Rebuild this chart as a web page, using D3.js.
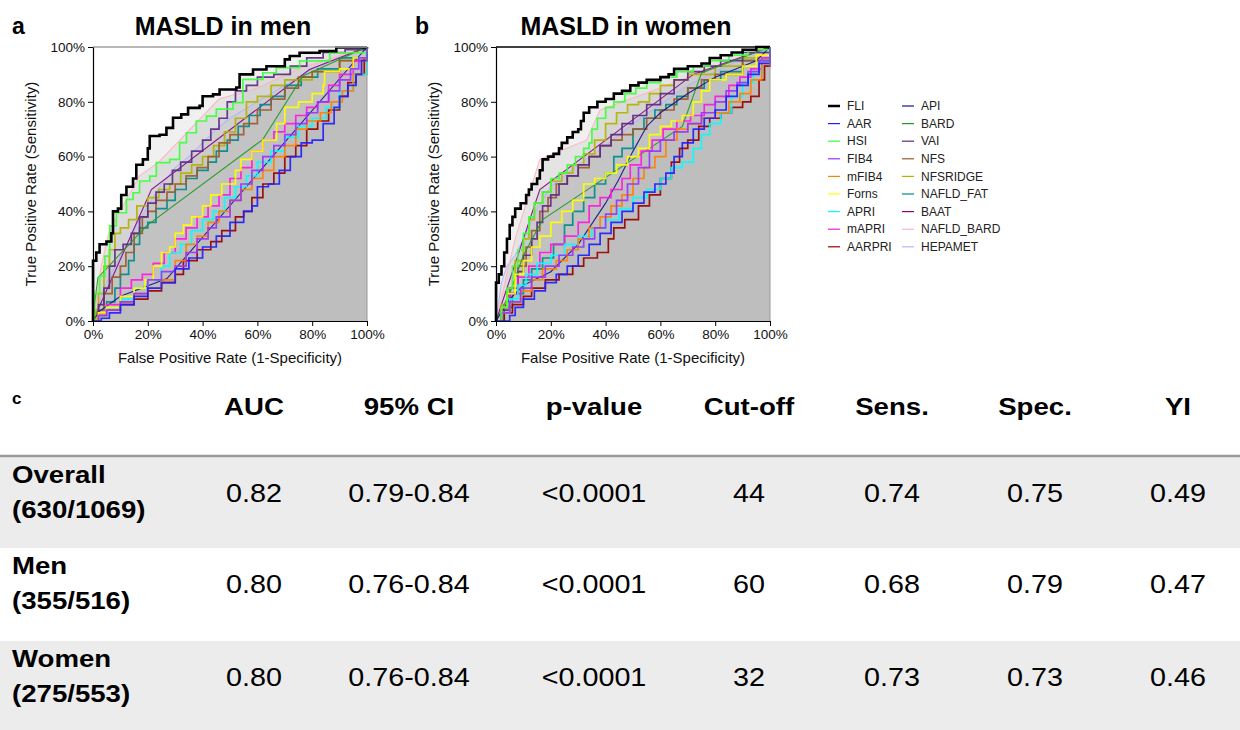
<!DOCTYPE html>
<html>
<head>
<meta charset="utf-8">
<script src="https://cdn.jsdelivr.net/npm/d3@7"></script>
<style>
  body { margin: 0; background: #fff; }
  svg { font-family: "Liberation Sans", Arial, sans-serif; }
</style>
</head>
<body>
<svg id="fig" width="1240" height="730"></svg>
<script>
// markers shown in both panels, legend order
var markers = ["FLI", "AAR", "HSI", "FIB4", "mFIB4", "Forns", "APRI", "mAPRI", "AARPRI",
               "API", "BARD", "VAI", "NFS", "NFSRIDGE", "NAFLD_FAT", "BAAT", "NAFLD_BARD", "HEPAMET"];
var markerColors = ["#000000", "#1f1fff", "#3cff3c", "#9933ff", "#ff8000", "#ffff00", "#00ffff", "#ff19e0", "#990000",
                    "#14148c", "#229922", "#5b2a86", "#9c5a2e", "#b3b300", "#008b8b", "#8b008b", "#ffb3bb", "#b3b3ff"];
// these come out as straight segments, the others as staircases
var straightMarkers = ["API", "BARD", "BAAT", "NAFLD_BARD", "HEPAMET"];
var ticks = [0, 0.2, 0.4, 0.6, 0.8, 1];

// ROC points [1-specificity, sensitivity], men
var menFLI = [[0,0],[0,0.22],[0.012,0.25],[0.024,0.28],[0.049,0.29],[0.067,0.32],[0.073,0.40],[0.091,0.41],[0.103,0.46],[0.122,0.49],[0.146,0.52],[0.158,0.57],[0.182,0.59],[0.20,0.63],[0.207,0.675],[0.243,0.68],[0.268,0.705],[0.292,0.742],[0.322,0.754],[0.347,0.778],[0.389,0.785],[0.40,0.82],[0.438,0.827],[0.462,0.845],[0.523,0.852],[0.535,0.90],[0.584,0.918],[0.633,0.93],[0.70,0.955],[0.718,0.967],[0.754,0.979],[0.827,0.985],[0.888,0.998],[1,1]];
var menAAR = [[0,0],[0.03,0.01],[0.06,0.03],[0.1,0.06],[0.15,0.09],[0.2,0.12],[0.25,0.14],[0.3,0.19],[0.35,0.23],[0.4,0.27],[0.45,0.31],[0.5,0.36],[0.55,0.4],[0.58,0.42],[0.6,0.49],[0.64,0.5],[0.68,0.55],[0.72,0.6],[0.76,0.65],[0.8,0.66],[0.84,0.72],[0.88,0.78],[0.9,0.82],[0.93,0.86],[0.96,0.9],[0.98,0.95],[1,1]];
var menHSI = [[0,0],[0.005,0.1],[0.024,0.164],[0.043,0.237],[0.061,0.347],[0.085,0.395],[0.122,0.444],[0.146,0.468],[0.17,0.511],[0.207,0.529],[0.231,0.578],[0.28,0.59],[0.316,0.651],[0.341,0.687],[0.377,0.73],[0.414,0.748],[0.45,0.773],[0.511,0.797],[0.547,0.882],[0.62,0.906],[0.669,0.925],[0.754,0.949],[0.864,0.979],[1,1]];
var menFIB4 = [[0,0],[0.02,0.02],[0.05,0.04],[0.1,0.07],[0.15,0.1],[0.2,0.15],[0.25,0.18],[0.3,0.2],[0.34,0.25],[0.38,0.3],[0.42,0.34],[0.45,0.38],[0.5,0.44],[0.54,0.5],[0.58,0.55],[0.62,0.6],[0.66,0.64],[0.7,0.68],[0.74,0.72],[0.78,0.76],[0.82,0.8],[0.86,0.84],[0.9,0.88],[0.94,0.92],[0.97,0.96],[1,1]];
var menMFIB4 = [[0,0],[0.02,0.02],[0.05,0.04],[0.1,0.07],[0.15,0.1],[0.2,0.12],[0.25,0.15],[0.3,0.22],[0.34,0.28],[0.38,0.31],[0.42,0.36],[0.46,0.4],[0.5,0.44],[0.54,0.48],[0.58,0.52],[0.62,0.55],[0.66,0.6],[0.7,0.64],[0.74,0.7],[0.78,0.73],[0.83,0.76],[0.87,0.8],[0.91,0.84],[0.95,0.9],[0.98,0.95],[1,1]];
var menForns = [[0,0],[0.02,0.03],[0.05,0.05],[0.1,0.09],[0.15,0.12],[0.19,0.15],[0.22,0.2],[0.25,0.25],[0.28,0.27],[0.3,0.32],[0.33,0.35],[0.36,0.38],[0.4,0.42],[0.43,0.46],[0.47,0.5],[0.52,0.55],[0.54,0.59],[0.58,0.62],[0.62,0.66],[0.67,0.72],[0.7,0.78],[0.75,0.8],[0.8,0.83],[0.84,0.86],[0.845,0.91],[0.9,0.92],[0.95,0.96],[1,1]];
var menAPRI = [[0,0],[0.02,0.02],[0.05,0.05],[0.1,0.08],[0.15,0.12],[0.2,0.15],[0.25,0.2],[0.28,0.25],[0.32,0.28],[0.36,0.33],[0.4,0.37],[0.44,0.4],[0.48,0.45],[0.52,0.49],[0.56,0.53],[0.6,0.58],[0.65,0.62],[0.7,0.67],[0.75,0.71],[0.8,0.74],[0.85,0.78],[0.9,0.84],[0.95,0.9],[1,1]];
var menMAPRI = [[0,0],[0.02,0.03],[0.05,0.06],[0.1,0.12],[0.14,0.15],[0.18,0.17],[0.22,0.21],[0.26,0.25],[0.3,0.3],[0.34,0.34],[0.38,0.38],[0.42,0.42],[0.46,0.46],[0.5,0.52],[0.54,0.56],[0.58,0.62],[0.62,0.66],[0.66,0.69],[0.7,0.72],[0.74,0.75],[0.78,0.78],[0.82,0.8],[0.86,0.86],[0.9,0.9],[0.95,0.95],[1,1]];
var menAARPRI = [[0,0],[0.02,0.02],[0.05,0.04],[0.1,0.06],[0.15,0.08],[0.2,0.11],[0.25,0.14],[0.3,0.17],[0.33,0.22],[0.38,0.26],[0.43,0.29],[0.47,0.33],[0.52,0.38],[0.55,0.4],[0.58,0.45],[0.62,0.5],[0.66,0.54],[0.7,0.6],[0.74,0.64],[0.78,0.7],[0.82,0.73],[0.86,0.77],[0.9,0.82],[0.93,0.87],[0.96,0.9],[0.99,0.96],[1,1]];
var menAPI = [[0,0],[0.024,0.036],[0.1,0.09],[0.27,0.155],[1,1]];
var menBARD = [[0,0],[0.005,0.06],[0.018,0.158],[0.195,0.347],[0.62,0.663],[0.766,0.894],[1,1]];
var menVAI = [[0,0],[0.02,0.06],[0.04,0.12],[0.06,0.2],[0.08,0.26],[0.11,0.28],[0.14,0.32],[0.17,0.38],[0.2,0.43],[0.23,0.47],[0.26,0.5],[0.29,0.55],[0.32,0.58],[0.36,0.62],[0.4,0.66],[0.43,0.7],[0.46,0.74],[0.49,0.8],[0.52,0.84],[0.56,0.86],[0.6,0.89],[0.66,0.9],[0.72,0.93],[0.78,0.96],[0.84,0.98],[0.92,0.99],[1,1]];
var menNFS = [[0,0],[0.02,0.04],[0.04,0.1],[0.07,0.16],[0.1,0.2],[0.12,0.25],[0.15,0.32],[0.18,0.38],[0.2,0.4],[0.23,0.44],[0.27,0.47],[0.3,0.5],[0.34,0.53],[0.38,0.56],[0.42,0.6],[0.46,0.65],[0.5,0.68],[0.55,0.72],[0.6,0.77],[0.65,0.81],[0.7,0.85],[0.75,0.89],[0.8,0.91],[0.9,0.95],[1,1]];
var menNFSRIDGE = [[0,0],[0.01,0.04],[0.02,0.1],[0.04,0.2],[0.06,0.26],[0.08,0.32],[0.1,0.34],[0.13,0.37],[0.16,0.42],[0.2,0.45],[0.24,0.48],[0.28,0.5],[0.32,0.54],[0.36,0.57],[0.4,0.6],[0.44,0.64],[0.48,0.69],[0.52,0.74],[0.56,0.8],[0.6,0.82],[0.65,0.86],[0.7,0.88],[0.8,0.91],[0.9,0.95],[1,1]];
var menNAFLD_FAT = [[0,0],[0.02,0.03],[0.05,0.07],[0.08,0.12],[0.1,0.17],[0.13,0.22],[0.15,0.28],[0.17,0.34],[0.2,0.36],[0.23,0.41],[0.27,0.44],[0.3,0.48],[0.34,0.52],[0.38,0.55],[0.42,0.58],[0.45,0.62],[0.49,0.66],[0.53,0.71],[0.57,0.75],[0.61,0.79],[0.65,0.82],[0.7,0.86],[0.76,0.89],[0.82,0.92],[0.9,0.96],[1,1]];
var menBAAT = [[0,0],[0.213,0.48],[0.79,0.918],[1,1]];
var menNAFLD_BARD = [[0,0],[0.03,0.2],[0.06,0.33],[0.17,0.53],[0.24,0.58],[0.46,0.81],[0.6,0.85],[0.75,0.92],[1,1]];
var menHEPAMET = [[0,0],[0.04,0.12],[0.08,0.2],[0.12,0.27],[0.16,0.35],[0.2,0.42],[0.25,0.5],[0.3,0.56],[0.35,0.6],[0.4,0.65],[0.45,0.7],[0.5,0.74],[0.6,0.8],[0.7,0.86],[0.8,0.92],[0.9,0.96],[1,1]];

// ROC points, women
var womenFLI = [[0,0],[0,0.14],[0.01,0.17],[0.02,0.2],[0.03,0.25],[0.04,0.3],[0.05,0.35],[0.06,0.38],[0.07,0.41],[0.09,0.43],[0.11,0.46],[0.12,0.48],[0.13,0.5],[0.15,0.52],[0.16,0.55],[0.17,0.59],[0.19,0.6],[0.21,0.61],[0.23,0.63],[0.24,0.65],[0.26,0.67],[0.28,0.69],[0.3,0.7],[0.31,0.73],[0.32,0.76],[0.34,0.78],[0.37,0.8],[0.4,0.81],[0.43,0.83],[0.46,0.84],[0.49,0.86],[0.52,0.87],[0.55,0.88],[0.6,0.89],[0.63,0.9],[0.65,0.92],[0.7,0.93],[0.75,0.94],[0.78,0.96],[0.82,0.97],[0.86,0.98],[0.9,0.99],[0.95,1],[1,1]];
var womenAAR = [[0,0],[0.03,0],[0.05,0.02],[0.07,0.05],[0.1,0.08],[0.14,0.11],[0.18,0.14],[0.22,0.17],[0.26,0.2],[0.3,0.24],[0.34,0.28],[0.38,0.32],[0.42,0.36],[0.46,0.4],[0.5,0.43],[0.54,0.47],[0.58,0.5],[0.62,0.54],[0.65,0.6],[0.68,0.65],[0.72,0.7],[0.76,0.74],[0.8,0.77],[0.84,0.82],[0.88,0.86],[0.92,0.9],[0.96,0.94],[1,1]];
var womenHSI = [[0,0],[0.02,0.05],[0.04,0.12],[0.06,0.2],[0.08,0.26],[0.1,0.32],[0.12,0.38],[0.14,0.43],[0.17,0.47],[0.2,0.52],[0.23,0.54],[0.26,0.57],[0.29,0.6],[0.32,0.63],[0.34,0.65],[0.35,0.7],[0.37,0.74],[0.4,0.78],[0.43,0.8],[0.47,0.83],[0.51,0.85],[0.55,0.87],[0.6,0.89],[0.66,0.91],[0.72,0.93],[0.78,0.95],[0.85,0.97],[0.92,0.99],[1,1]];
var womenFIB4 = [[0,0],[0.02,0.03],[0.05,0.07],[0.09,0.12],[0.13,0.16],[0.18,0.2],[0.23,0.24],[0.28,0.27],[0.32,0.3],[0.36,0.34],[0.4,0.39],[0.44,0.44],[0.48,0.5],[0.52,0.56],[0.56,0.62],[0.6,0.66],[0.65,0.69],[0.7,0.72],[0.75,0.76],[0.8,0.8],[0.84,0.84],[0.88,0.87],[0.92,0.91],[0.96,0.95],[1,1]];
var womenMFIB4 = [[0,0],[0.02,0.03],[0.05,0.07],[0.09,0.11],[0.13,0.15],[0.17,0.19],[0.22,0.22],[0.26,0.26],[0.3,0.3],[0.34,0.34],[0.38,0.38],[0.42,0.42],[0.46,0.46],[0.5,0.52],[0.54,0.56],[0.58,0.6],[0.62,0.66],[0.66,0.7],[0.7,0.72],[0.75,0.74],[0.8,0.76],[0.85,0.8],[0.89,0.83],[0.93,0.88],[0.97,0.94],[1,1]];
var womenForns = [[0,0],[0.02,0.05],[0.04,0.1],[0.07,0.17],[0.1,0.22],[0.13,0.27],[0.16,0.31],[0.2,0.36],[0.24,0.4],[0.28,0.44],[0.32,0.5],[0.36,0.52],[0.4,0.54],[0.44,0.57],[0.48,0.6],[0.52,0.63],[0.56,0.68],[0.6,0.71],[0.64,0.73],[0.68,0.75],[0.72,0.8],[0.75,0.84],[0.78,0.88],[0.84,0.9],[0.9,0.93],[0.95,0.97],[1,1]];
var womenAPRI = [[0,0],[0.02,0.03],[0.05,0.08],[0.08,0.13],[0.11,0.17],[0.15,0.21],[0.2,0.24],[0.25,0.28],[0.3,0.31],[0.35,0.34],[0.4,0.37],[0.45,0.41],[0.5,0.45],[0.55,0.48],[0.6,0.52],[0.64,0.56],[0.68,0.58],[0.72,0.63],[0.75,0.68],[0.78,0.72],[0.82,0.76],[0.86,0.82],[0.9,0.87],[0.94,0.91],[0.97,0.95],[1,1]];
var womenMAPRI = [[0,0],[0.02,0.05],[0.05,0.1],[0.08,0.16],[0.12,0.2],[0.16,0.25],[0.2,0.28],[0.25,0.31],[0.3,0.36],[0.34,0.42],[0.38,0.45],[0.42,0.48],[0.46,0.52],[0.49,0.57],[0.53,0.62],[0.57,0.66],[0.61,0.7],[0.66,0.73],[0.71,0.75],[0.76,0.79],[0.8,0.82],[0.85,0.86],[0.89,0.89],[0.93,0.92],[0.97,0.96],[1,1]];
var womenAARPRI = [[0,0],[0.03,0.03],[0.06,0.06],[0.1,0.09],[0.13,0.12],[0.18,0.15],[0.23,0.17],[0.28,0.2],[0.32,0.23],[0.37,0.25],[0.41,0.3],[0.43,0.34],[0.47,0.37],[0.52,0.42],[0.56,0.46],[0.6,0.52],[0.64,0.58],[0.67,0.63],[0.7,0.66],[0.74,0.71],[0.78,0.74],[0.82,0.76],[0.86,0.78],[0.9,0.8],[0.93,0.82],[0.96,0.88],[0.98,0.93],[1,1]];
var womenAPI = [[0,0],[0.05,0.08],[0.1,0.13],[0.2,0.18],[0.3,0.28],[0.4,0.43],[0.45,0.52],[0.5,0.62],[0.55,0.71],[0.6,0.76],[0.7,0.83],[0.8,0.89],[0.9,0.93],[0.95,0.95],[1,1]];
var womenBARD = [[0,0],[0.05,0.1],[0.1,0.24],[0.17,0.37],[0.68,0.71],[0.75,0.905],[1,1]];
var womenVAI = [[0,0],[0.02,0.04],[0.05,0.1],[0.08,0.18],[0.1,0.24],[0.13,0.3],[0.15,0.36],[0.17,0.42],[0.2,0.46],[0.23,0.5],[0.26,0.53],[0.3,0.57],[0.34,0.6],[0.38,0.64],[0.42,0.68],[0.46,0.72],[0.5,0.75],[0.55,0.79],[0.6,0.83],[0.65,0.88],[0.7,0.91],[0.76,0.93],[0.82,0.95],[0.9,0.98],[1,1]];
var womenNFS = [[0,0],[0.02,0.05],[0.05,0.12],[0.08,0.2],[0.11,0.27],[0.13,0.33],[0.16,0.4],[0.19,0.45],[0.22,0.5],[0.26,0.53],[0.3,0.56],[0.34,0.6],[0.38,0.64],[0.42,0.66],[0.46,0.68],[0.5,0.7],[0.55,0.74],[0.6,0.77],[0.65,0.81],[0.7,0.85],[0.75,0.88],[0.8,0.9],[0.9,0.95],[1,1]];
var womenNFSRIDGE = [[0,0],[0.02,0.06],[0.04,0.12],[0.07,0.22],[0.1,0.3],[0.12,0.37],[0.14,0.43],[0.17,0.47],[0.2,0.51],[0.24,0.54],[0.28,0.57],[0.32,0.61],[0.36,0.66],[0.4,0.72],[0.44,0.76],[0.48,0.79],[0.52,0.8],[0.56,0.83],[0.6,0.86],[0.65,0.88],[0.7,0.9],[0.8,0.93],[0.9,0.96],[1,1]];
var womenNAFLD_FAT = [[0,0],[0.03,0.05],[0.06,0.1],[0.1,0.15],[0.13,0.19],[0.17,0.23],[0.21,0.28],[0.25,0.35],[0.28,0.4],[0.32,0.45],[0.36,0.5],[0.4,0.54],[0.43,0.6],[0.46,0.63],[0.5,0.7],[0.54,0.74],[0.58,0.77],[0.62,0.79],[0.66,0.82],[0.7,0.85],[0.76,0.88],[0.82,0.91],[0.9,0.95],[1,1]];
var womenBAAT = [[0,0],[0.16,0.48],[0.72,0.9],[1,1]];
var womenNAFLD_BARD = [[0,0],[0.07,0.3],[0.16,0.59],[0.33,0.66],[0.38,0.77],[0.6,0.85],[0.8,0.93],[1,1]];
var womenHEPAMET = [[0,0],[0.02,0.14],[0.04,0.2],[0.07,0.24],[0.1,0.3],[0.15,0.41],[0.2,0.49],[0.3,0.57],[0.4,0.64],[0.5,0.72],[0.6,0.79],[0.7,0.86],[0.8,0.91],[0.9,0.96],[1,1]];

// table c
var tableHeader = ["AUC", "95% CI", "p-value", "Cut-off", "Sens.", "Spec.", "YI"];
var rowGroups = ["Overall", "Men", "Women"];
var rowCounts = ["(630/1069)", "(355/516)", "(275/553)"];
var overallRow = ["0.82", "0.79-0.84", "<0.0001", "44", "0.74", "0.75", "0.49"];
var menRow = ["0.80", "0.76-0.84", "<0.0001", "60", "0.68", "0.79", "0.47"];
var womenRow = ["0.80", "0.76-0.84", "<0.0001", "32", "0.73", "0.73", "0.46"];

var menData = {
    FLI: menFLI, AAR: menAAR, HSI: menHSI, FIB4: menFIB4, mFIB4: menMFIB4, Forns: menForns,
    APRI: menAPRI, mAPRI: menMAPRI, AARPRI: menAARPRI, API: menAPI, BARD: menBARD, VAI: menVAI,
    NFS: menNFS, NFSRIDGE: menNFSRIDGE, NAFLD_FAT: menNAFLD_FAT, BAAT: menBAAT,
    NAFLD_BARD: menNAFLD_BARD, HEPAMET: menHEPAMET
}
var womenData = {
    FLI: womenFLI, AAR: womenAAR, HSI: womenHSI, FIB4: womenFIB4, mFIB4: womenMFIB4, Forns: womenForns,
    APRI: womenAPRI, mAPRI: womenMAPRI, AARPRI: womenAARPRI, API: womenAPI, BARD: womenBARD, VAI: womenVAI,
    NFS: womenNFS, NFSRIDGE: womenNFSRIDGE, NAFLD_FAT: womenNAFLD_FAT, BAAT: womenBAAT,
    NAFLD_BARD: womenNAFLD_BARD, HEPAMET: womenHEPAMET
}

var svg = d3.select("#fig")
var size = 274

function drawPanel(left, top, data, title, letter, topColor) {
    var x = d3.scaleLinear().domain([0, 1]).range([left, left + size])
    var y = d3.scaleLinear().domain([0, 1]).range([top + size, top])
    var g = svg.append("g")

    // areas under every curve, stacked translucent grey
    markers.forEach(function (m) {
        var curve = straightMarkers.indexOf(m) >= 0 ? d3.curveLinear : d3.curveStepAfter
        var area = d3.area()
            .x(function (d) { return x(d[0]) })
            .y0(y(0))
            .y1(function (d) { return y(d[1]) })
            .curve(curve)
        g.append("path")
            .datum(data[m])
            .attr("fill", "#bebebe")
            .attr("fill-opacity", 0.23)
            .attr("d", area)
    })

    // lines, FLI last so it sits on top
    markers.slice().reverse().forEach(function (m) {
        var i = markers.indexOf(m)
        var straight = straightMarkers.indexOf(m) >= 0
        var line = d3.line()
            .x(function (d) { return x(d[0]) })
            .y(function (d) { return y(d[1]) })
            .curve(straight ? d3.curveLinear : d3.curveStepAfter)
        g.append("path")
            .datum(data[m])
            .attr("fill", "none")
            .attr("stroke", markerColors[i])
            .attr("stroke-width", m === "FLI" ? 2.6 : (straight ? 1.1 : 1.7))
            .attr("stroke-opacity", m === "FLI" ? 1 : 0.92)
            .attr("stroke-linejoin", "miter")
            .attr("d", line)
    })

    // frame
    g.append("line").attr("x1", left).attr("x2", left + size).attr("y1", top).attr("y2", top)
        .attr("stroke", topColor).attr("stroke-width", 1.5)
    g.append("line").attr("x1", left + size).attr("x2", left + size).attr("y1", top).attr("y2", top + size)
        .attr("stroke", "#999").attr("stroke-width", 1)

    var fmt = d3.format(".0%")
    var xAxis = g.append("g")
        .attr("transform", "translate(0," + (top + size) + ")")
        .call(d3.axisBottom(x).tickValues(ticks).tickFormat(fmt).tickSize(5).tickSizeOuter(0).tickPadding(3))
    var yAxis = g.append("g")
        .attr("transform", "translate(" + left + ",0)")
        .call(d3.axisLeft(y).tickValues(ticks).tickFormat(fmt).tickSize(5).tickSizeOuter(0).tickPadding(3))
    ;[xAxis, yAxis].forEach(function (a) {
        a.selectAll("text").attr("font-size", 13.5).attr("fill", "#111")
            .attr("font-family", '"Liberation Sans", Arial, sans-serif')
        a.select(".domain").attr("stroke", "#000").attr("stroke-width", 1.2)
        a.selectAll(".tick line").attr("stroke", "#000")
    })

    g.append("text")
        .attr("x", left + size / 2).attr("y", top + size + 42)
        .attr("text-anchor", "middle").attr("font-size", 15).attr("fill", "#111")
        .text("False Positive Rate (1-Specificity)")
    g.append("text")
        .attr("transform", "translate(" + (left - 57) + "," + (top + size / 2) + ") rotate(-90)")
        .attr("text-anchor", "middle").attr("font-size", 15).attr("fill", "#111")
        .text("True Positive Rate (Sensitivity)")

    g.append("text")
        .attr("x", left + size / 2 - 7).attr("y", 35)
        .attr("text-anchor", "middle").attr("font-size", 25).attr("font-weight", "bold")
        .text(title)
    g.append("text")
        .attr("x", left - 81).attr("y", 34)
        .attr("font-size", 23).attr("font-weight", "bold")
        .text(letter)
}

drawPanel(93, 47, menData, "MASLD in men", "a", "#a0a0a0")
drawPanel(496, 47, womenData, "MASLD in women", "b", "#000")

// legend
var legend = svg.append("g")
markers.forEach(function (m, i) {
    var col = Math.floor(i / 9), row = i % 9
    var lx = 828 + col * 74, ly = 106 + row * 17.6
    legend.append("line")
        .attr("x1", lx).attr("x2", lx + 12).attr("y1", ly).attr("y2", ly)
        .attr("stroke", markerColors[i]).attr("stroke-width", m === "FLI" ? 2.5 : 1.2)
    legend.append("text")
        .attr("x", lx + 19).attr("y", ly + 4.2)
        .attr("font-size", 12).attr("fill", "#222")
        .text(m)
})

// table c
var colX = [254, 409, 594, 749, 892, 1035, 1178]
var rowTop = [457, 548, 641]
var rowValues = [overallRow, menRow, womenRow]
var sx = 1.15

function tableText(x, y, str, size, bold, anchor) {
    svg.append("text")
        .attr("transform", "translate(" + x + "," + y + ") scale(" + sx + ",1)")
        .attr("text-anchor", anchor)
        .attr("font-size", size)
        .attr("font-weight", bold ? "bold" : "normal")
        .attr("fill", "#000")
        .text(str)
}

svg.append("rect").attr("x", 0).attr("y", rowTop[0]).attr("width", 1240).attr("height", 91).attr("fill", "#ececec")
svg.append("rect").attr("x", 0).attr("y", rowTop[2]).attr("width", 1240).attr("height", 89).attr("fill", "#ececec")
svg.append("line").attr("x1", 0).attr("x2", 1240).attr("y1", 456).attr("y2", 456)
    .attr("stroke", "#9a9a9a").attr("stroke-width", 2.5)

svg.append("text").attr("x", 12).attr("y", 404).attr("font-size", 17).attr("font-weight", "bold").text("c")

tableHeader.forEach(function (h, i) { tableText(colX[i], 415, h, 24, true, "middle") })

rowGroups.forEach(function (r, k) {
    var t = rowTop[k]
    tableText(12, t + 26, r, 24, true, "start")
    tableText(12, t + 61, rowCounts[k], 24, true, "start")
    rowValues[k].forEach(function (v, i) { tableText(colX[i], t + 45, v, 25, false, "middle") })
})
</script>
</body>
</html>
